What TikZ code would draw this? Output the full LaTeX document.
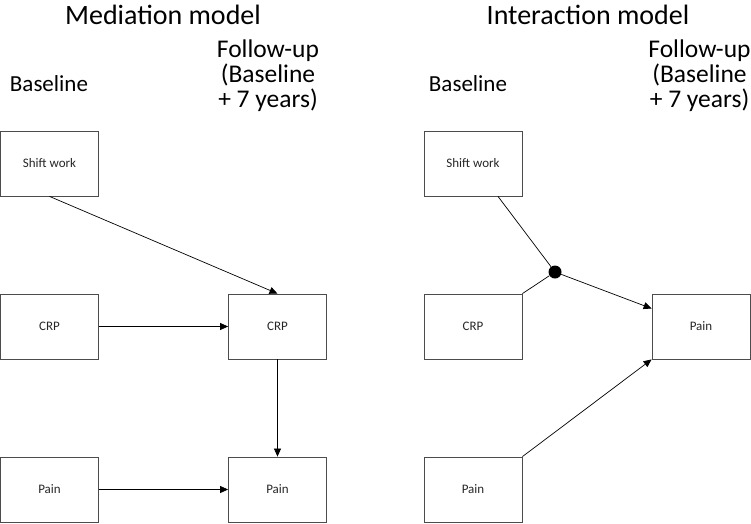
\documentclass[tikz,border=0pt]{standalone}
\usepackage{fontspec}
\setmainfont{Carlito}
\usetikzlibrary{arrows.meta}

\begin{document}
\begin{tikzpicture}[x=1pt, y=-1pt,
    box/.style={draw=black!70, line width=0.8pt, minimum width=98pt, minimum height=65pt, inner sep=0pt, text=black!85, font=\fontsize{13}{15}\selectfont},
    title/.style={anchor=base, font=\fontsize{28}{32}\selectfont},
    phase/.style={anchor=base, font=\fontsize{23}{25}\selectfont},
    followup/.style={align=center, inner sep=0pt, font=\fontsize{25.5}{25}\selectfont},
    edge/.style={line width=0.7pt, -{Triangle[length=8pt,width=7pt]}},
    link/.style={line width=0.7pt}]
    \useasboundingbox (0,0) rectangle (751,523);

    % Draw titles
    \node[title] (mtitle) at (163,24) {Mediation model};
    \node[title] (ititle) at (588,24) {Interaction model};
    \node[phase] (mbase) at (49,91) {Baseline};
    \node[phase] (ibase) at (468,91) {Baseline};
    \node[followup] (mfu) at (268,76) {Follow-up\\(Baseline\\+ 7 years)};
    \node[followup] (ifu) at (699.5,76) {Follow-up\\(Baseline\\+ 7 years)};

    % Draw nodes (mediation model)
    \node[box] (mshift) at (49.5,163.5) {Shift work};
    \node[box] (mcrp) at (49.5,326.5) {CRP};
    \node[box] (mpain) at (49.5,489.5) {Pain};
    \node[box] (mcrpfu) at (277.5,326.5) {CRP};
    \node[box] (mpainfu) at (277.5,489.5) {Pain};

    % Draw nodes (interaction model)
    \node[box] (ishift) at (473,163.5) {Shift work};
    \node[box] (icrp) at (473,326.5) {CRP};
    \node[box] (ipain) at (473,489.5) {Pain};
    \node[box] (ipainfu) at (701,326.5) {Pain};
    \node[circle, fill, inner sep=0pt, minimum size=13pt] (idot) at (555,272) {};

    % Draw directed edges
    \draw[edge] (mshift.south) -- (mcrpfu.north); % shift work to CRP
    \draw[edge] (mcrp.east) -- (mcrpfu.west); % CRP to CRP
    \draw[edge] (mcrpfu.south) -- (mpainfu.north); % CRP to pain
    \draw[edge] (mpain.east) -- (mpainfu.west); % pain to pain

    \draw[link] ([xshift=25pt]ishift.south) -- (idot);
    \draw[link] (icrp.north east) -- (idot);
    \draw[edge] (idot) -- (ipainfu.160); % interaction to pain
    \draw[edge] (ipain.north east) -- (ipainfu.south west); % pain to pain
\end{tikzpicture}
\end{document}
